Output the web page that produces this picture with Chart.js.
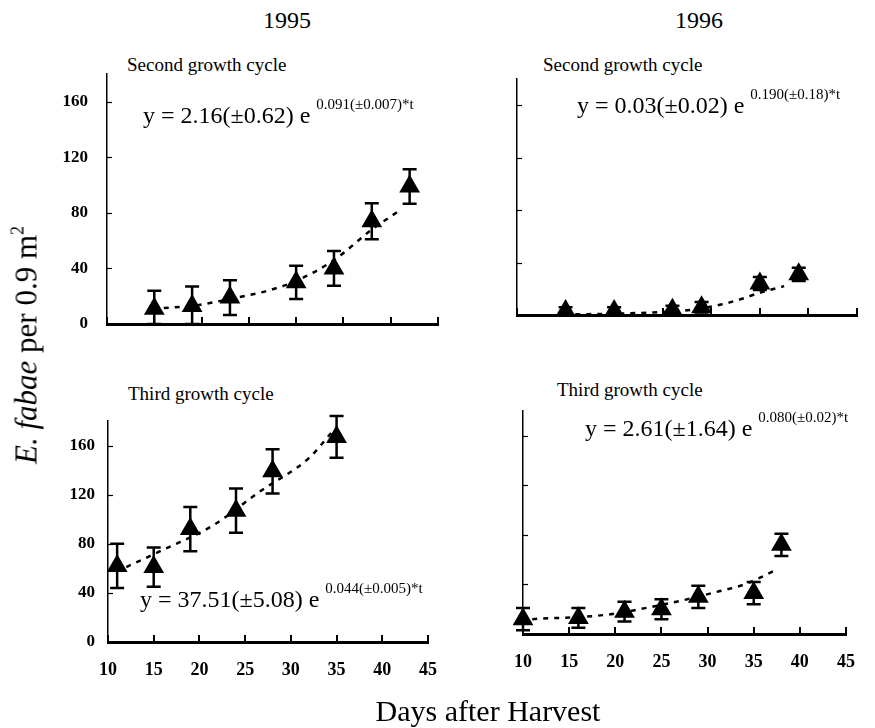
<!DOCTYPE html>
<html>
<head>
<meta charset="utf-8">
<title>E. fabae per 0.9 m2</title>
<script src="https://cdn.jsdelivr.net/npm/chart.js@4.4.1/dist/chart.umd.min.js"></script>
<style>
  body { margin: 0; background: #fff; }
  #page { position: relative; width: 875px; height: 728px; overflow: hidden;
          font-family: "Liberation Serif", "Times New Roman", serif; color: #000; }
  canvas { position: absolute; }
  .txt { position: absolute; white-space: nowrap; line-height: 1; }
  .year { font-size: 24px; transform: translateX(-50%); }
  .cycle { font-size: 19px; }
  .eq { font-size: 24px; }
  .eq sup { font-size: 15px; vertical-align: baseline; position: relative; top: -14px; }
  .ytitle { font-size: 31px; transform: translate(-50%, -50%) rotate(-90deg); }
  .ytitle sup { font-size: 18px; vertical-align: baseline; position: relative; top: -13px; }
  .xtitle { font-size: 30px; transform: translateX(-50%); }
</style>
</head>
<body>
<div id="page">
  <div class="txt year" style="left:287px; top:8px;">1995</div>
  <div class="txt year" style="left:699px; top:8px;">1996</div>

  <div class="txt cycle" style="left:127px; top:55px;">Second growth cycle</div>
  <div class="txt cycle" style="left:543px; top:55px;">Second growth cycle</div>
  <div class="txt cycle" style="left:128px; top:384px;">Third growth cycle</div>
  <div class="txt cycle" style="left:557px; top:380px;">Third growth cycle</div>

  <canvas id="c95b" width="450" height="290" style="left:0; top:50px;"></canvas>
  <canvas id="c96b" width="430" height="280" style="left:440px; top:50px;"></canvas>
  <canvas id="c95c" width="455" height="320" style="left:0; top:380px;"></canvas>
  <canvas id="c96c" width="433" height="320" style="left:440px; top:380px;"></canvas>

  <div class="txt eq" style="left:143px; top:103px;">y = 2.16(±0.62) e <sup>0.091(±0.007)*t</sup></div>
  <div class="txt eq" style="left:577px; top:93px;">y = 0.03(±0.02) e <sup>0.190(±0.18)*t</sup></div>
  <div class="txt eq" style="left:140px; top:587px;">y = 37.51(±5.08) e <sup>0.044(±0.005)*t</sup></div>
  <div class="txt eq" style="left:585px; top:416px;">y = 2.61(±1.64) e <sup>0.080(±0.02)*t</sup></div>

  <div class="txt ytitle" style="left:26px; top:345px;"><i>E. fabae</i> per 0.9 m<sup>2</sup></div>
  <div class="txt xtitle" style="left:488px; top:696px;">Days after Harvest</div>
</div>
<script>
  // 1995, second growth cycle
  const days95b = [15, 19, 23, 30, 34, 38, 42];
  const mean95b = [11, 13, 19, 30, 40, 74, 99];
  const err95b = [13, 14, 12.5, 12, 12.5, 13, 12.5];
  const fitDays95b = [16, 19, 23, 27, 30, 34, 38, 41];
  const fit95b = [11.5, 13, 18, 24, 31, 46, 68, 82];

  // 1996, second growth cycle
  const days96b = [15, 20, 26, 29, 35, 39];
  const mean96b = [3, 3, 4, 6, 24, 31];
  const err96b = [3, 3, 3, 4, 5, 5];
  const fitDays96b = [16, 20, 24, 28, 31, 33, 35, 37.5];
  const fit96b = [0.5, 1, 2, 4, 8, 12, 17, 22];

  // 1995, third growth cycle
  const days95c = [11, 15, 19, 24, 28, 35];
  const mean95c = [62, 61, 92, 107, 139, 167];
  const err95c = [18, 16, 18, 18, 18, 17];
  const fitDays95c = [12, 16, 21.5, 26.5, 32, 34.5];
  const fit95c = [61, 75, 95, 122, 150, 171];

  // 1996, third growth cycle
  const days96c = [10, 16, 21, 25, 29, 35, 38];
  const mean96c = [12, 13, 18, 20, 30, 33, 72];
  const err96c = [9, 8, 8, 8, 9, 9, 9];
  const fitDays96c = [11, 19, 24, 27.5, 31, 34, 37.5];
  const fit96c = [12, 15.5, 22, 27.5, 34, 40, 52];

  const xTicks = [10, 15, 20, 25, 30, 35, 40, 45];
  const yTicks = [0, 40, 80, 120, 160];

  const FONT = '"Liberation Serif", "Times New Roman", serif';

  // error bars under the triangles, short inward tick marks on both axes
  const panelMarks = {
    id: 'panelMarks',
    beforeDatasetsDraw(chart, args, opts) {
      const {ctx, scales: {x, y}} = chart;
      ctx.save();
      ctx.strokeStyle = '#000';
      ctx.lineWidth = 2.5;
      opts.days.forEach((d, i) => {
        const px = x.getPixelForValue(d);
        const top = y.getPixelForValue(opts.mean[i] + opts.err[i]);
        const bot = y.getPixelForValue(Math.max(0, opts.mean[i] - opts.err[i]));
        ctx.beginPath();
        ctx.moveTo(px, top); ctx.lineTo(px, bot);
        ctx.moveTo(px - 7, top); ctx.lineTo(px + 7, top);
        ctx.moveTo(px - 7, bot); ctx.lineTo(px + 7, bot);
        ctx.stroke();
      });
      ctx.restore();
    },
    afterDraw(chart) {
      const {ctx, scales: {x, y}, chartArea} = chart;
      ctx.save();
      ctx.strokeStyle = '#000';
      ctx.lineWidth = 2;
      xTicks.forEach(v => {
        const px = Math.round(x.getPixelForValue(v));
        ctx.beginPath();
        ctx.moveTo(px, chartArea.bottom); ctx.lineTo(px, chartArea.bottom - 7);
        ctx.stroke();
      });
      ctx.lineWidth = 1.2;
      yTicks.forEach(v => {
        const py = Math.round(y.getPixelForValue(v)) + 0.5;
        ctx.beginPath();
        ctx.moveTo(chartArea.left, py); ctx.lineTo(chartArea.left + 5, py);
        ctx.stroke();
      });
      ctx.restore();
    }
  };

  function makePanel(id, p) {
    return new Chart(document.getElementById(id), {
      type: 'scatter',
      data: {
        datasets: [{
          data: p.fitDays.map((d, i) => ({x: d, y: p.fit[i]})),
          showLine: true,
          borderColor: '#000',
          borderWidth: 2.5,
          borderDash: [5, 6],
          pointRadius: 0,
          cubicInterpolationMode: 'monotone',
          clip: false
        }, {
          data: p.days.map((d, i) => ({x: d, y: p.mean[i]})),
          showLine: false,
          pointStyle: 'triangle',
          pointRadius: 12,
          backgroundColor: '#000',
          borderColor: '#000',
          borderWidth: 0,
          clip: false
        }]
      },
      options: {
        responsive: false,
        animation: false,
        events: [],
        layout: { padding: { top: p.padTop, right: p.padRight, left: 0, bottom: 0 } },
        plugins: {
          legend: { display: false },
          tooltip: { enabled: false },
          panelMarks: { days: p.days, mean: p.mean, err: p.err }
        },
        scales: {
          x: {
            type: 'linear', min: 10, max: 45,
            afterBuildTicks: s => { s.ticks = xTicks.map(v => ({value: v})); },
            ticks: { display: p.showX, color: '#000', padding: 18,
                     font: { family: FONT, size: 18, weight: 'bold' } },
            grid: { display: false, drawTicks: false },
            border: { color: '#000', width: 3 },
            afterFit: s => { s.height = p.xh; }
          },
          y: {
            type: 'linear', min: 0, max: 180,
            afterBuildTicks: s => { s.ticks = yTicks.map(v => ({value: v})); },
            ticks: { display: p.showY, color: '#000', padding: p.yPad || 16,
                     font: { family: FONT, size: 17, weight: 'bold' } },
            grid: { display: false, drawTicks: false },
            border: { color: '#000', width: 1.5 },
            afterFit: s => { s.width = p.yw; s.paddingTop = 0; s.paddingBottom = 0; }
          }
        }
      },
      plugins: [panelMarks]
    });
  }

  makePanel('c95b', { days: days95b, mean: mean95b, err: err95b, fitDays: fitDays95b, fit: fit95b,
    showX: false, showY: true, yw: 107, xh: 16, padTop: 24, padRight: 12, yPad: 19 });
  makePanel('c96b', { days: days96b, mean: mean96b, err: err96b, fitDays: fitDays96b, fit: fit96b,
    showX: false, showY: false, yw: 77, xh: 15, padTop: 29, padRight: 13 });
  makePanel('c95c', { days: days95c, mean: mean95c, err: err95c, fitDays: fitDays95c, fit: fit95c,
    showX: true, showY: true, yw: 108, xh: 58, padTop: 41, padRight: 13, yPad: 13 });
  makePanel('c96c', { days: days96c, mean: mean96c, err: err96c, fitDays: fitDays96c, fit: fit96c,
    showX: true, showY: false, yw: 83, xh: 66, padTop: 31, padRight: 11 });
</script>
</body>
</html>
